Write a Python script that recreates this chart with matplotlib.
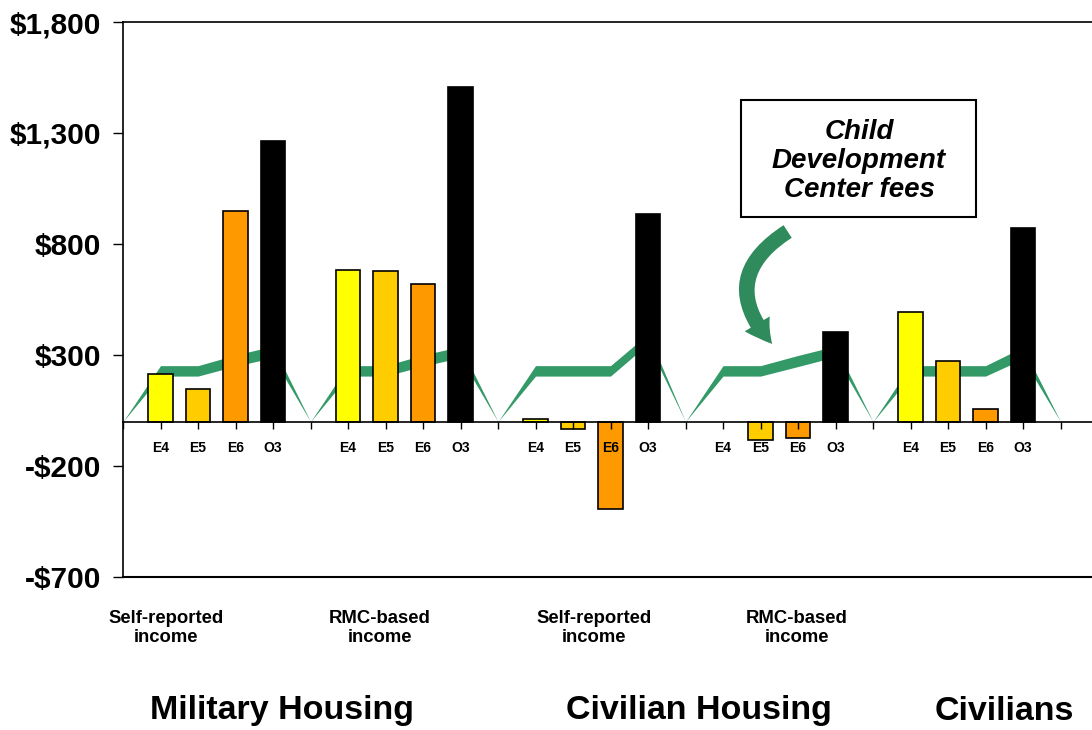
import numpy as np
import matplotlib.pyplot as plt
from matplotlib.patches import FancyArrowPatch, Rectangle

plt.rcParams['font.family'] = ['Liberation Sans', 'DejaVu Sans']
plt.rcParams['font.weight'] = 'bold'

# data
ranks = ['E4', 'E5', 'E6', 'O3']
rank_colors = ['#FFFF00', '#FFCC00', '#FF9900', '#000000']

mil_self = [215, 145, 950, 1265]
mil_rmc = [685, 680, 620, 1505]
civ_self = [12, -35, -395, 935]
civ_rmc = [0, -82, -72, 405]
civilians = [492, 274, 57, 870]
bar_groups = [mil_self, mil_rmc, civ_self, civ_rmc, civilians]

# Child Development Center fee band (lower / upper edge per rank)
cdc_low = [[205, 205, 250, 288], [205, 205, 250, 288], [205, 205, 205, 350],
           [205, 205, 248, 292], [205, 205, 205, 282]]
cdc_high = [[252, 252, 300, 340], [252, 252, 300, 338], [252, 252, 252, 395],
            [252, 252, 298, 340], [252, 252, 252, 335]]

sub_labels = ['Self-reported\nincome', 'RMC-based\nincome',
              'Self-reported\nincome', 'RMC-based\nincome']
big_labels = ['Military Housing', 'Civilian Housing', 'Civilians']
yticks = [1800, 1300, 800, 300, -200, -700]

W, H = 1092, 730
fig = plt.figure(figsize=(W / 100, H / 100), dpi=100)
ax = fig.add_axes([123 / W, 1 - 577 / H, (1092 - 123) / W, (577 - 22) / H])

slot = 5  # four ranks + one blank slot per group
n_groups = len(bar_groups)

# band: zero at blank slots, ranks in between
band_x, band_lo, band_hi = [0], [0], [0]
for g in range(n_groups):
    for k in range(len(ranks)):
        band_x.append(g * slot + k + 1)
        band_lo.append(cdc_low[g][k])
        band_hi.append(cdc_high[g][k])
    band_x.append(g * slot + slot)
    band_lo.append(0)
    band_hi.append(0)
ax.fill_between(band_x, band_lo, band_hi, color='#339966', lw=0, zorder=1)

for g, vals in enumerate(bar_groups):
    xs = [g * slot + k + 1 for k in range(len(ranks))]
    for x, v, c in zip(xs, vals, rank_colors):
        if v == 0:
            continue
        ax.bar(x, v, width=0.65, color=c, edgecolor='black', linewidth=1.2, zorder=2)

xt = list(range(0, n_groups * slot + 1))
xl = [ranks[(x - 1) % slot] if x % slot != 0 else '' for x in xt]
ax.set_xticks(xt)
ax.set_xticklabels(xl, fontsize=13.5, fontweight='bold')
ax.tick_params(axis='x', direction='out', length=5, width=1, pad=9)
ax.xaxis.set_zorder(3)

ax.set_xlim(0, (1092 - 123) / 37.5)
ax.set_ylim(-700, 1800)
ax.set_yticks(yticks)
ax.set_yticklabels([f'-${-v:,}' if v < 0 else f'${v:,}' for v in yticks],
                   fontsize=21.5, fontweight='bold')
ax.tick_params(axis='y', direction='out', length=7, width=1, pad=9)

ax.spines['bottom'].set_position(('data', 0))
ax.spines['bottom'].set_zorder(3)
ax.spines['right'].set_visible(False)
for s in ['left', 'top', 'bottom']:
    ax.spines[s].set_linewidth(1.2)
ax.axhline(-700, color='black', lw=1.5, clip_on=False, zorder=3)

# text box and arrow
fig.patches.append(Rectangle((741 / W, 1 - 217 / H), 235 / W, 117 / H,
                             transform=fig.transFigure, fill=False,
                             edgecolor='black', linewidth=1.5))
fig.text(859 / W, 1 - 161 / H, 'Child\nDevelopment\nCenter fees',
         ha='center', va='center', fontsize=20, fontstyle='italic',
         fontweight='bold', linespacing=1.15)
arrow = FancyArrowPatch((790 / W, 1 - 230 / H), (774 / W, 1 - 346 / H),
                        transform=fig.transFigure,
                        connectionstyle='arc3,rad=0.6',
                        arrowstyle='simple,head_length=0.6,head_width=0.7,tail_width=0.36',
                        mutation_scale=30, color='#2F8A5C', lw=0)
fig.patches.append(arrow)

sub_x = [166, 380, 594, 797]
for x, t in zip(sub_x, sub_labels):
    fig.text(x / W, 1 - 628 / H, t, ha='center', va='center', fontsize=13.3,
             fontweight='bold', linespacing=1.15)
for x, t in zip([282, 699, 1004], big_labels):
    fig.text(x / W, 1 - 711 / H, t, ha='center', va='center', fontsize=24.5,
             fontweight='bold')

fig.savefig('out.png', dpi=100)
